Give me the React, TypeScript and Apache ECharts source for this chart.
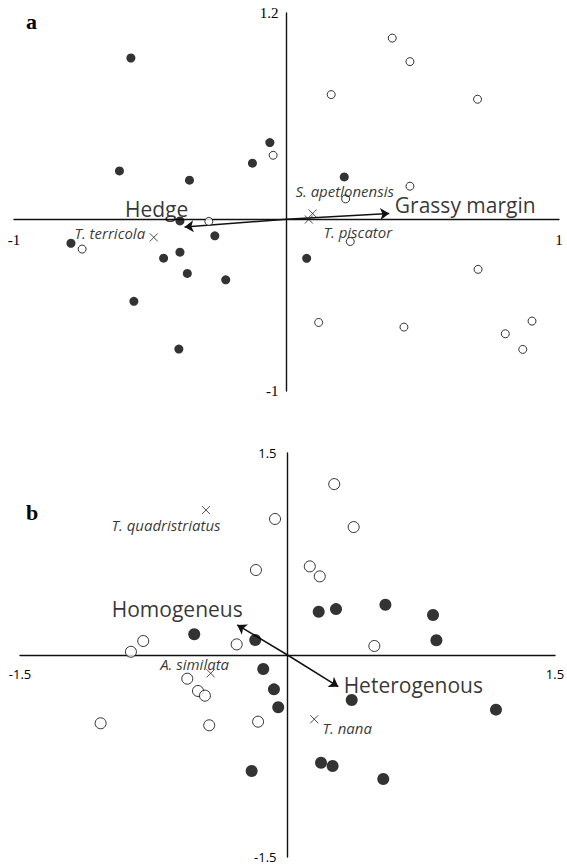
import React, { useEffect, useRef } from "react";
import * as echarts from "echarts";

// ---------- Panel a (Hedge vs Grassy margin) ----------
const aFilled: number[][] = [
  [-0.571, 0.938], [-0.061, 0.446], [-0.125, 0.326], [-0.613, 0.281], [-0.356, 0.227],
  [0.212, 0.246], [-0.391, -0.01], [-0.263, -0.097], [-0.791, -0.14], [-0.451, -0.227],
  [-0.391, -0.192], [-0.364, -0.316], [-0.223, -0.353], [-0.56, -0.478], [-0.395, -0.756],
  [0.074, -0.228],
];
const aOpen: number[][] = [
  [-0.049, 0.372], [0.388, 1.054], [0.453, 0.917], [0.164, 0.725], [0.701, 0.698],
  [0.453, 0.192], [0.217, 0.118], [-0.285, -0.013], [-0.75, -0.174], [0.234, -0.13],
  [0.703, -0.292], [0.118, -0.601], [0.431, -0.628], [0.901, -0.593], [0.803, -0.667],
  [0.867, -0.758],
];
const aSpeciesNames = ["T. terricola", "S. apetlonensis", "T. piscator"];
const aSpeciesXY: number[][] = [[-0.487, -0.106], [0.096, 0.033], [0.082, -0.002]];
const aVectorNames = ["Hedge", "Grassy margin"];
const aVectorXY: number[][] = [[-0.374, -0.045], [0.377, 0.033]];
const aXRange = [-1, 1];
const aYRange = [-1, 1.2];
const aXTicks = [-1, 1];
const aYTicks = [-1, 1.2];

// ---------- Panel b (Homogeneus vs Heterogenous) ----------
const bFilled: number[][] = [
  [-0.523, 0.154], [-0.181, 0.111], [0.175, 0.321], [0.272, 0.341], [0.549, 0.373],
  [0.816, 0.297], [0.835, 0.109], [-0.136, -0.104], [-0.076, -0.255], [-0.052, -0.388],
  [-0.201, -0.861], [0.36, -0.334], [1.169, -0.406], [0.188, -0.8], [0.253, -0.824],
  [0.537, -0.921],
];
const bOpen: number[][] = [
  [-0.07, 1.01], [-0.177, 0.631], [-0.809, 0.104], [-0.285, 0.079], [-0.878, 0.024],
  [0.262, 1.269], [0.371, 0.95], [0.125, 0.658], [0.181, 0.584], [0.487, 0.067],
  [-0.562, -0.176], [-0.502, -0.267], [-0.463, -0.302], [-1.048, -0.507], [-0.439, -0.522],
  [-0.165, -0.495],
];
const bSpeciesNames = ["T. quadristriatus", "A. similata", "T. nana"];
const bSpeciesXY: number[][] = [[-0.457, 1.076], [-0.431, -0.136], [0.15, -0.477]];
const bVectorNames = ["Homogeneus", "Heterogenous"];
const bVectorXY: number[][] = [[-0.282, 0.223], [0.285, -0.235]];
const bXRange = [-1.5, 1.5];
const bYRange = [-1.5, 1.5];
const bXTicks = [-1.5, 1.5];
const bYTicks = [-1.5, 1.5];

// label offsets (px), styling only
const aSpeciesOffsets = [[-44, -4], [32, -23], [49, 12]];
const bSpeciesOffsets = [[-40, 15], [-16, -9], [33, 9]];
const aVectorOffsets = [[-28, -18], [76, -9]];
const bVectorOffsets = [[-60, -16], [75, -2]];

const W = 567;
const H = 867;
const gridA = { left: 14, right: 8, top: 13, height: 378 };
const gridB = { left: 20, right: 12, top: 453, height: 404 };

const SANS = "'Open Sans', 'DejaVu Sans', sans-serif";
const SERIF = "'Liberation Serif', 'DejaVu Serif', serif";
const INK = "#000";
const CROSS = "path://M0,0L10,10M10,0L0,10";

function axisPair(
  gi: number, grid: any, xr: number[], yr: number[],
  xt: number[], yt: number[], font: string, fs: number, xMargin: number, yMargin: number
) {
  const gw = W - grid.left - grid.right;
  const gh = grid.height;
  // move axes onto the zero lines of the other axis
  const xOffset = -(gh * (0 - yr[0])) / (yr[1] - yr[0]);
  const yOffset = -(gw * (0 - xr[0])) / (xr[1] - xr[0]);
  const line = { show: true, onZero: false, lineStyle: { color: "#111", width: 1.4 } };
  const x = {
    type: "value", gridIndex: gi, min: xr[0], max: xr[1], position: "bottom", offset: xOffset,
    axisLine: line, axisTick: { show: false }, splitLine: { show: false },
    axisLabel: {
      customValues: xt, color: INK, fontFamily: font, fontSize: fs, margin: xMargin,
      formatter: (v: number) => String(v),
    },
  };
  const y = {
    type: "value", gridIndex: gi, min: yr[0], max: yr[1], position: "left", offset: yOffset,
    axisLine: line, axisTick: { show: false }, splitLine: { show: false },
    axisLabel: {
      customValues: yt, color: INK, fontFamily: font, fontSize: fs, margin: yMargin,
      formatter: (v: number) => String(v),
    },
  };
  return { x, y };
}

function panelSeries(
  gi: number, filled: number[][], open: number[][],
  spNames: string[], spXY: number[][], spOff: number[][],
  vNames: string[], vXY: number[][], vOff: number[][],
  filledSize: number, openSize: number
) {
  return [
    {
      type: "lines", coordinateSystem: "cartesian2d", xAxisIndex: gi, yAxisIndex: gi,
      symbol: ["none", "arrow"], symbolSize: 9,
      lineStyle: { color: "#111", width: 1.5, opacity: 1 },
      data: vXY.map((p) => ({ coords: [[0, 0], p] })),
      z: 3,
    },
    {
      type: "scatter", xAxisIndex: gi, yAxisIndex: gi, symbol: "circle",
      symbolSize: filledSize, itemStyle: { color: "#000" }, data: filled, z: 4,
    },
    {
      type: "scatter", xAxisIndex: gi, yAxisIndex: gi, symbol: "circle",
      symbolSize: openSize, itemStyle: { color: "#fff", borderColor: "#000", borderWidth: 1 },
      data: open, z: 4,
    },
    {
      type: "scatter", xAxisIndex: gi, yAxisIndex: gi, symbol: CROSS, symbolSize: 8,
      itemStyle: { color: "none", borderColor: "#222", borderWidth: 1 },
      data: spXY.map((p, i) => ({
        value: p, name: spNames[i],
        label: {
          show: true, position: "inside", formatter: spNames[i], offset: spOff[i],
          fontFamily: SANS, fontStyle: "italic", fontSize: 15, color: INK,
        },
      })),
      z: 5,
    },
    {
      type: "scatter", xAxisIndex: gi, yAxisIndex: gi, symbol: "circle", symbolSize: 1,
      itemStyle: { color: "rgba(0,0,0,0)" },
      data: vXY.map((p, i) => ({
        value: p, name: vNames[i],
        label: {
          show: true, position: "inside", formatter: vNames[i], offset: vOff[i],
          fontFamily: SANS, fontSize: 21, color: INK,
        },
      })),
      z: 6,
    },
  ];
}

export default function App() {
  const ref = useRef<HTMLDivElement>(null);
  useEffect(() => {
    if (!ref.current) return;
    const chart = echarts.init(ref.current, null, { renderer: "svg" });
    const a = axisPair(0, gridA, aXRange, aYRange, aXTicks, aYTicks, SERIF, 15, 13, 8);
    const b = axisPair(1, gridB, bXRange, bYRange, bXTicks, bYTicks, SANS, 13, 12, 11);
    chart.setOption({
      animation: false,
      backgroundColor: "#fff",
      grid: [
        { ...gridA, outerBoundsMode: "none", containLabel: false },
        { ...gridB, outerBoundsMode: "none", containLabel: false },
      ],
      xAxis: [a.x, b.x],
      yAxis: [a.y, b.y],
      graphic: [
        { type: "text", left: 26, top: 10, style: { text: "a", font: `bold 22px ${SERIF}`, fill: INK } },
        { type: "text", left: 26, top: 501, style: { text: "b", font: `bold 22px ${SERIF}`, fill: INK } },
      ],
      series: [
        ...panelSeries(0, aFilled, aOpen, aSpeciesNames, aSpeciesXY, aSpeciesOffsets,
          aVectorNames, aVectorXY, aVectorOffsets, 9, 8),
        ...panelSeries(1, bFilled, bOpen, bSpeciesNames, bSpeciesXY, bSpeciesOffsets,
          bVectorNames, bVectorXY, bVectorOffsets, 12, 11),
      ],
    });
    return () => chart.dispose();
  }, []);
  return (
    <div
      ref={ref}
      style={{ position: "fixed", left: 0, top: 0, width: W, height: H, background: "#fff" }}
    />
  );
}
